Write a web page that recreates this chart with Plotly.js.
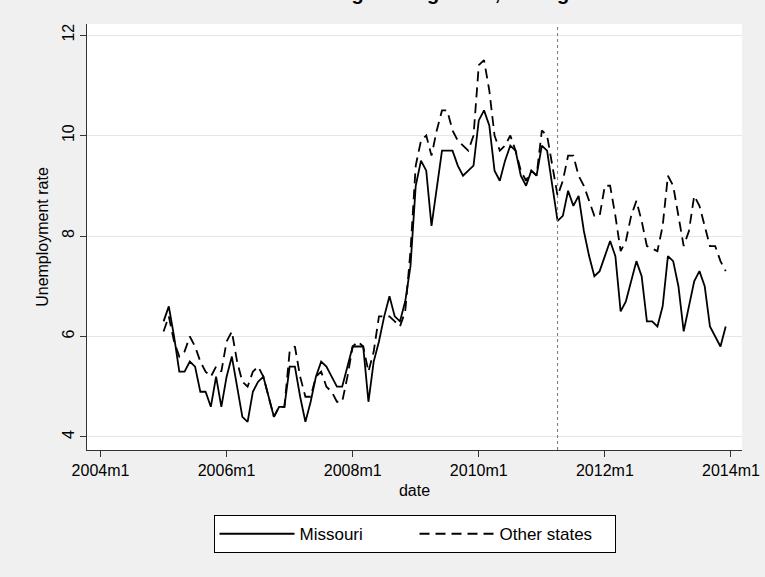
<!DOCTYPE html>
<html>
<head>
<meta charset="utf-8">
<script src="https://cdn.plot.ly/plotly-3.0.1.min.js"></script>
<style>
  html, body { margin: 0; padding: 0; background: #f0f0f0; }
  #chart { width: 765px; height: 577px; }
</style>
</head>
<body>
<div id="chart"></div>
<script>
// Data: monthly unemployment rate, 2005m1 .. 2013m12
const firstMonth = "2005m1";
const policyMonth = "2011m4";

const missouri = [
  6.3, 6.6, 6.0, 5.3, 5.3, 5.5, 5.4, 4.9, 4.9, 4.6, 5.2, 4.6,
  5.2, 5.6, 5.0, 4.4, 4.3, 4.9, 5.1, 5.2, 4.8, 4.4, 4.6, 4.6,
  5.4, 5.4, 4.8, 4.3, 4.7, 5.2, 5.5, 5.4, 5.2, 5.0, 5.0, 5.4,
  5.8, 5.8, 5.8, 4.7, 5.5, 5.9, 6.4, 6.8, 6.4, 6.3, 6.7, 7.4,
  9.0, 9.5, 9.3, 8.2, 9.0, 9.7, 9.7, 9.7, 9.4, 9.2, 9.3, 9.4,
  10.3, 10.5, 10.2, 9.3, 9.1, 9.5, 9.8, 9.7, 9.2, 9.0, 9.3, 9.2,
  9.8, 9.7, 9.0, 8.3, 8.4, 8.9, 8.6, 8.8, 8.1, 7.6, 7.2, 7.3,
  7.6, 7.9, 7.6, 6.5, 6.7, 7.1, 7.5, 7.2, 6.3, 6.3, 6.2, 6.6,
  7.6, 7.5, 7.0, 6.1, 6.6, 7.1, 7.3, 7.0, 6.2, 6.0, 5.8, 6.2
];

const otherStates = [
  6.1, 6.4, 5.9, 5.6, 5.7, 6.0, 5.8, 5.5, 5.3, 5.2, 5.4, 5.3,
  5.9, 6.1, 5.5, 5.1, 5.0, 5.3, 5.4, 5.2, 4.8, 4.4, 4.6, 4.6,
  5.7, 5.8, 5.2, 4.8, 4.8, 5.2, 5.3, 5.0, 4.9, 4.7, 4.7, 5.2,
  5.8, 5.9, 5.8, 5.3, 5.7, 6.4, 6.4, 6.4, 6.3, 6.2, 6.5, 7.7,
  9.4, 9.9, 10.0, 9.6, 10.1, 10.5, 10.5, 10.1, 9.9, 9.8, 9.7, 10.0,
  11.4, 11.5, 10.9, 10.0, 9.7, 9.8, 10.0, 9.7, 9.3, 9.1, 9.3, 9.2,
  10.1, 10.0, 9.4, 8.8, 9.1, 9.6, 9.6, 9.2, 9.0, 8.7, 8.4, 8.4,
  9.0, 9.0, 8.4, 7.7, 7.9, 8.4, 8.7, 8.3, 7.8, 7.75, 7.7, 8.2,
  9.2, 9.0, 8.4, 7.8, 8.1, 8.8, 8.6, 8.2, 7.8, 7.8, 7.5, 7.3
];

const xTickLabels = ["2004m1", "2006m1", "2008m1", "2010m1", "2012m1", "2014m1"];
const yTickValues = [4, 6, 8, 10, 12];

// Stata-style monthly date "YYYYmM" -> months since 2004m1
function monthIndex(label) {
  const [y, m] = label.split("m").map(Number);
  return (y - 2004) * 12 + (m - 1);
}

const start = monthIndex(firstMonth);
const months = missouri.map((_, i) => start + i);

const fontFamily = "Liberation Sans, Arial, Helvetica, sans-serif";

const traces = [
  {
    x: months,
    y: missouri,
    name: "Missouri",
    type: "scatter",
    mode: "lines",
    line: { color: "#000000", width: 1.8 },
  },
  {
    x: months,
    y: otherStates,
    name: "Other states",
    type: "scatter",
    mode: "lines",
    line: { color: "#000000", width: 1.8, dash: "10px,6px" },
  },
];

const layout = {
  width: 765,
  height: 577,
  paper_bgcolor: "#f0f0f0",
  plot_bgcolor: "#ffffff",
  margin: { l: 87, r: 23, t: 24, b: 127 },
  font: { family: fontFamily, size: 16, color: "#000000" },
  showlegend: true,
  xaxis: {
    range: [-2.57, 122.1],
    tickvals: xTickLabels.map(monthIndex),
    ticktext: xTickLabels,
    ticks: "outside",
    ticklen: 6,
    tickcolor: "#333333",
    showline: true,
    linecolor: "#333333",
    linewidth: 1,
    showgrid: false,
    zeroline: false,
    title: { text: "date", standoff: 6, font: { size: 16 } },
  },
  yaxis: {
    range: [3.74, 12.22],
    tickvals: yTickValues,
    tickangle: -90,
    ticks: "outside",
    ticklen: 6,
    tickcolor: "#333333",
    showline: true,
    linecolor: "#333333",
    linewidth: 1,
    showgrid: true,
    gridcolor: "#e6e6e6",
    gridwidth: 1,
    zeroline: false,
    title: { text: "Unemployment rate", standoff: 6, font: { size: 16 } },
  },
  legend: {
    orientation: "h",
    x: 0.5,
    xanchor: "center",
    y: -0.153,
    yanchor: "top",
    bgcolor: "#ffffff",
    bordercolor: "#000000",
    borderwidth: 1,
    itemwidth: 75,
    entrywidth: 110,
    font: { size: 17 },
  },
  shapes: [
    {
      type: "line",
      xref: "x",
      yref: "paper",
      x0: monthIndex(policyMonth),
      x1: monthIndex(policyMonth),
      y0: 0,
      y1: 1,
      line: { color: "#777777", width: 1, dash: "dot" },
    },
  ],
  annotations: [
    {
      text: "<b>Missouri tracking its neighbors, through 2013</b>",
      xref: "paper",
      yref: "paper",
      x: 0.5,
      y: 1.073,
      xanchor: "center",
      yanchor: "middle",
      showarrow: false,
      font: { size: 20, family: fontFamily },
    },
  ],
};

Plotly.newPlot("chart", traces, layout, { displayModeBar: false, staticPlot: true });
</script>
</body>
</html>
